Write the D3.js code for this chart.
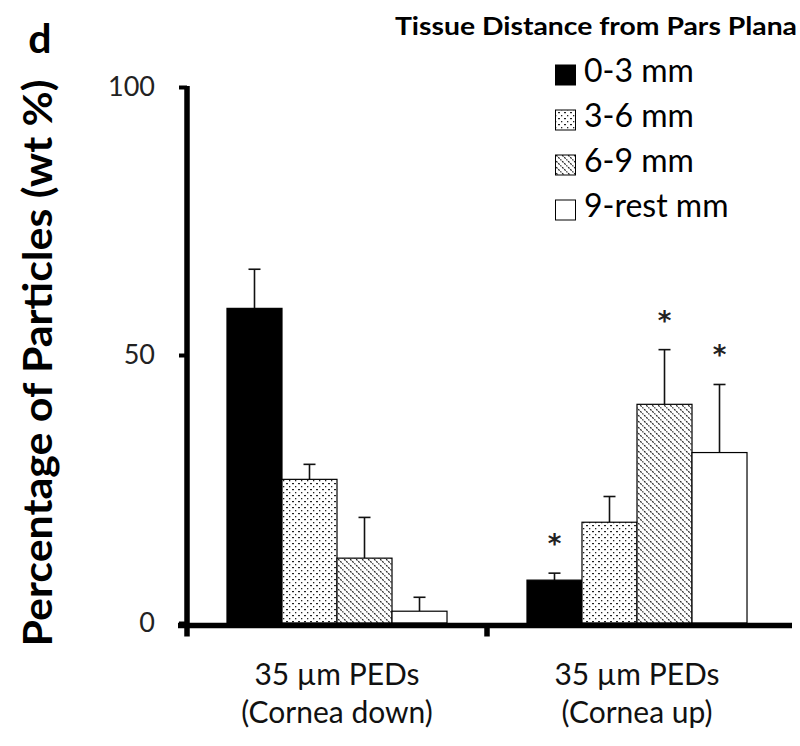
<!DOCTYPE html>
<html><head><meta charset="utf-8">
<script src="https://cdn.jsdelivr.net/npm/d3@7"></script>
<style>body{margin:0;background:#fff}svg{display:block}</style>
</head><body>
<script>
const categoryLine1 = ["35 µm PEDs", "35 µm PEDs"];
const categoryLine2 = ["(Cornea down)", "(Cornea up)"];
const categories = ["down", "up"];
const series = ["0-3 mm", "3-6 mm", "6-9 mm", "9-rest mm"];
const values = [[58.7, 26.8, 12.1, 2.2], [8.0, 18.8, 40.8, 31.8]];
const errorsUp = [[7.3, 2.8, 7.6, 2.6], [1.3, 4.8, 10.2, 12.7]];
const significant = [[false, false, false, false], [true, false, true, true]];
const yTicks = [0, 50, 100];
const legendTitle = "Tissue Distance from Pars Plana";
const yTitle = "Percentage of Particles (wt %)";
const panelLabel = "d";

const W = 800, H = 746;
const FONT = "Lato, 'Open Sans', sans-serif";
const svg = d3.select("body").append("svg").attr("width", W).attr("height", H);
const defs = svg.append("defs");

// patterns
const pDot = defs.append("pattern").attr("id", "dots").attr("patternUnits", "userSpaceOnUse")
  .attr("width", 6).attr("height", 6);
pDot.append("rect").attr("width", 6).attr("height", 6).attr("fill", "#fff");
pDot.append("rect").attr("x", 0).attr("y", 0).attr("width", 1.3).attr("height", 1.3).attr("fill", "#222");
pDot.append("rect").attr("x", 3).attr("y", 3).attr("width", 2).attr("height", 1.2).attr("fill", "#222");

const pHatch = defs.append("pattern").attr("id", "hatch").attr("patternUnits", "userSpaceOnUse")
  .attr("width", 6).attr("height", 6);
pHatch.append("rect").attr("width", 6).attr("height", 6).attr("fill", "#fff");
pHatch.append("path").attr("d", "M-1,-1 L7,7 M-1,5 L1,7 M5,-1 L7,1")
  .attr("stroke", "#222").attr("stroke-width", 1.2).attr("stroke-dasharray", "2,1");

const fills = ["#000", "url(#dots)", "url(#hatch)", "#fff"];

const y = d3.scaleLinear().domain([0, 100]).range([623, 87]);
const x0 = d3.scaleBand().domain(categories).range([187, 787]).padding(0);
const x1 = d3.scaleBand().domain(series).range([0, x0.bandwidth()]).paddingInner(0).paddingOuter(0.727);

// bars
const groups = svg.selectAll("g.grp").data(categories).enter().append("g")
  .attr("transform", d => `translate(${x0(d)},0)`);

groups.each(function(cat, ci) {
  const g = d3.select(this);
  series.forEach((s, si) => {
    const v = values[ci][si], e = errorsUp[ci][si];
    const bx = x1(s), bw = x1.bandwidth(), cx = bx + bw / 2;
    g.append("line").attr("x1", cx).attr("x2", cx).attr("y1", y(v)).attr("y2", y(v + e))
      .attr("stroke", "#111").attr("stroke-width", 1.6);
    g.append("line").attr("x1", cx - 6).attr("x2", cx + 6).attr("y1", y(v + e)).attr("y2", y(v + e))
      .attr("stroke", "#111").attr("stroke-width", 1.6);
    g.append("rect").attr("x", bx).attr("y", y(v)).attr("width", bw).attr("height", y(0) - y(v))
      .attr("fill", fills[si]).attr("stroke", "#000").attr("stroke-width", 1.2);
    if (significant[ci][si]) {
      g.append("text").attr("x", cx).attr("y", y(v + e) - 20)
        .attr("text-anchor", "middle").attr("font-family", "'DejaVu Sans', sans-serif")
        .attr("font-weight", "bold").attr("font-size", 26)
        .attr("fill", "#222").text("*");
    }
  });
});

// y axis
const yAxis = svg.append("g").attr("transform", "translate(187,0)")
  .call(d3.axisLeft(y).tickValues(yTicks).tickSize(8).tickPadding(24).tickFormat(d3.format("d")));
yAxis.select(".domain").attr("stroke", "#000").attr("stroke-width", 5.5).attr("d", `M0,${y(100) - 1}V${y(0) + 4}`);
yAxis.selectAll(".tick line").attr("stroke", "#000").attr("stroke-width", 4);
yAxis.selectAll(".tick text").attr("font-family", FONT).attr("font-size", 27).attr("fill", "#222");

// x axis
const xAxis = svg.append("g").attr("transform", `translate(0,${y(0) + 2.5})`)
  .call(d3.axisBottom(x0).tickSize(0).tickFormat(""));
xAxis.select(".domain").attr("stroke", "#000").attr("stroke-width", 5.5).attr("d", `M178,0H792`);
xAxis.selectAll(".tick").remove();
const boundaries = [x0.range()[0], x0(categories[1])];
xAxis.selectAll("line.bt").data(boundaries).enter().append("line")
  .attr("x1", d => d).attr("x2", d => d).attr("y1", 0).attr("y2", 11)
  .attr("stroke", "#000").attr("stroke-width", 5.5);

// category labels
categories.forEach((c, i) => {
  const cx = x0(c) + x0.bandwidth() / 2;
  svg.append("text").attr("x", cx).attr("y", 685).attr("text-anchor", "middle")
    .attr("font-family", FONT).attr("font-size", 30).attr("fill", "#111").text(categoryLine1[i]);
  svg.append("text").attr("x", cx).attr("y", 723).attr("text-anchor", "middle")
    .attr("font-family", FONT).attr("font-size", 30).attr("fill", "#111").text(categoryLine2[i]);
});

// y title
svg.append("text").attr("transform", "translate(52,363) rotate(-90)").attr("text-anchor", "middle")
  .attr("font-family", FONT).attr("font-weight", "bold").attr("font-size", 41).attr("fill", "#000")
  .attr("textLength", 567).attr("lengthAdjust", "spacingAndGlyphs").text(yTitle);

// panel label
svg.append("text").attr("x", 40).attr("y", 53).attr("text-anchor", "middle")
  .attr("font-family", FONT).attr("font-weight", "bold").attr("font-size", 41).attr("fill", "#000").text(panelLabel);

// legend
svg.append("text").attr("x", 797).attr("y", 35).attr("text-anchor", "end")
  .attr("font-family", FONT).attr("font-weight", "bold").attr("font-size", 24).attr("fill", "#000")
  .attr("textLength", 402).attr("lengthAdjust", "spacingAndGlyphs").text(legendTitle);
const legY = d3.scalePoint().domain(series).range([82, 217]);
const leg = svg.selectAll("g.leg").data(series).enter().append("g")
  .attr("transform", d => `translate(555,${legY(d)})`);
leg.append("rect").attr("x", 0.5).attr("y", -17).attr("width", 20).attr("height", 20)
  .attr("fill", (d, i) => fills[i]).attr("stroke", "#000").attr("stroke-width", 1);
leg.append("text").attr("x", 29).attr("y", 0).attr("font-family", FONT).attr("font-size", 32)
  .attr("fill", "#000").text(d => d);
</script>
</body></html>
